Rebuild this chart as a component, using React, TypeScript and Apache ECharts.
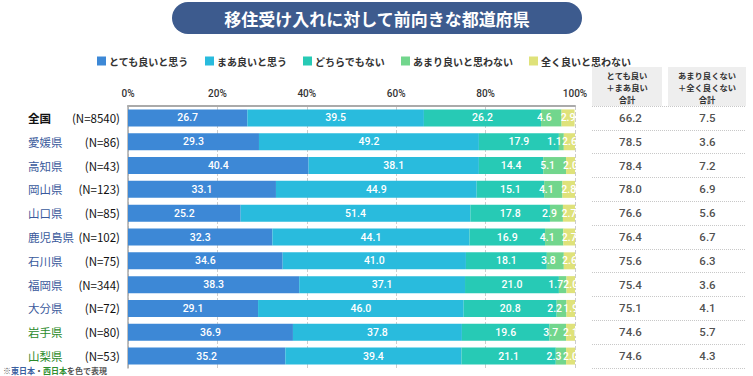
import React, { useEffect, useRef } from "react";
import * as echarts from "echarts";

const regions = ["全国", "愛媛県", "高知県", "岡山県", "山口県", "鹿児島県", "石川県", "福岡県", "大分県", "岩手県", "山梨県"];
const sampleN = [8540, 86, 43, 123, 85, 102, 75, 344, 72, 80, 53];
const area = ["all", "west", "west", "west", "west", "west", "west", "west", "west", "east", "east"];
const seriesNames = ["とても良いと思う", "まあ良いと思う", "どちらでもない", "あまり良いと思わない", "全く良いと思わない"];
const veryGood = [26.7, 29.3, 40.4, 33.1, 25.2, 32.3, 34.6, 38.3, 29.1, 36.9, 35.2];
const fairlyGood = [39.5, 49.2, 38.1, 44.9, 51.4, 44.1, 41.0, 37.1, 46.0, 37.8, 39.4];
const neutral = [26.2, 17.9, 14.4, 15.1, 17.8, 16.9, 18.1, 21.0, 20.8, 19.6, 21.1];
const notGood = [4.6, 1.1, 5.1, 4.1, 2.9, 4.1, 3.8, 1.7, 2.2, 3.7, 2.3];
const notAtAll = [2.9, 2.6, 2.0, 2.8, 2.7, 2.7, 2.6, 2.0, 1.9, 2.1, 2.0];
const positiveTotal = [66.2, 78.5, 78.4, 78.0, 76.6, 76.4, 75.6, 75.4, 75.1, 74.6, 74.6];
const negativeTotal = [7.5, 3.6, 7.2, 6.9, 5.6, 6.7, 6.3, 3.6, 4.1, 5.7, 4.3];
const xTicks = [0, 20, 40, 60, 80, 100];
const tableHeaders = [
  ["とても良い", "＋まあ良い", "合計"],
  ["あまり良くない", "＋全く良くない", "合計"],
];

const colors = ["#3d88d6", "#29bbdd", "#27cab5", "#72d68d", "#dfe27a"];
const labelShift = [0, 0, 0, -7, 0];
const FONT = "'Noto Sans CJK JP', 'Noto Sans', sans-serif";
const NUMFONT = "Roboto, 'Noto Sans', sans-serif";

export default function App() {
  const ref = useRef<HTMLDivElement>(null);
  useEffect(() => {
    if (!ref.current) return;
    const chart = echarts.init(ref.current, null, { renderer: "svg" });
    const values = [veryGood, fairlyGood, neutral, notGood, notAtAll];
    const barSeries = values.map((arr, k) => ({
      name: seriesNames[k],
      type: "bar",
      stack: "total",
      xAxisIndex: 0,
      yAxisIndex: 0,
      barWidth: 17,
      itemStyle: { color: colors[k] },
      label: {
        show: true,
        position: "inside",
        offset: [labelShift[k], 0],
        color: "#fff",
        fontSize: 10.5,
        fontFamily: NUMFONT,
        fontWeight: 500,
        formatter: (p: any) => Number(p.value).toFixed(1),
      },
      data: arr,
    }));
    const tableSeries = [positiveTotal, negativeTotal].map((arr, c) => ({
      type: "scatter",
      xAxisIndex: 1,
      yAxisIndex: 1,
      symbolSize: 0,
      silent: true,
      label: {
        show: true,
        position: "inside",
        color: "#222",
        fontSize: 11.5,
        fontWeight: 500,
        fontFamily: NUMFONT,
        formatter: (p: any) => Number(p.value[2]).toFixed(1),
      },
      data: arr.map((v, i) => [c, regions[i], v]),
    }));
    const headerW = [70, 78];
    const headerX = [592, 668];
    const graphics: any[] = [
      {
        type: "rect",
        shape: { x: 172, y: 2, width: 410, height: 32, r: 16 },
        style: { fill: "#3d5b8e" },
      },
      {
        type: "text",
        x: 377,
        y: 18,
        style: {
          text: "移住受け入れに対して前向きな都道府県",
          fill: "#fff",
          fontSize: 17,
          fontWeight: "bold",
          fontFamily: FONT,
          align: "center",
          verticalAlign: "middle",
        },
      },
      {
        type: "text",
        x: 3,
        y: 370,
        style: {
          rich: {
            g: { fill: "#555", fontSize: 8, fontFamily: FONT, fontWeight: "bold" },
            b: { fill: "#3a5fa0", fontSize: 8, fontFamily: FONT, fontWeight: "bold" },
            e: { fill: "#2f8f2f", fontSize: 8, fontFamily: FONT, fontWeight: "bold" },
          },
          text: "{g|※}{b|東日本}{g|・}{e|西日本}{g|を色で表現}",
          verticalAlign: "middle",
        },
      },
    ];
    tableHeaders.forEach((lines, i) => {
      graphics.push({
        type: "rect",
        shape: { x: headerX[i], y: 67, width: headerW[i], height: 39 },
        style: { fill: "#eeeeee" },
      });
      lines.forEach((line, j) => {
        graphics.push({
          type: "text",
          x: headerX[i] + headerW[i] / 2,
          y: 75.2 + j * 12.1,
          style: {
            text: line,
            fill: "#333",
            fontSize: 8.3,
            fontWeight: "bold",
            fontFamily: FONT,
            align: "center",
            verticalAlign: "middle",
          },
        });
      });
    });

    chart.setOption({
      animation: false,
      textStyle: { fontFamily: FONT },
      color: colors,
      legend: {
        data: seriesNames,
        left: 92,
        top: 51,
        icon: "rect",
        itemWidth: 9,
        itemHeight: 9,
        itemGap: 16,
        textStyle: { fontSize: 10, fontWeight: "bold", color: "#333", fontFamily: FONT, padding: [0, 0, 0, -2] },
      },
      grid: [
        { left: 128, right: 178, top: 106, bottom: 8 },
        { left: 592, right: 7, top: 106, bottom: 8 },
      ],
      xAxis: [
        {
          type: "value",
          gridIndex: 0,
          position: "top",
          min: 0,
          max: 100,
          interval: 20,
          axisLine: { show: true, onZero: false, lineStyle: { color: "#aaaaaa", width: 2 } },
          axisTick: { show: false },
          axisLabel: {
            margin: 8,
            fontSize: 10,
            color: "#333",
            fontFamily: NUMFONT,
            fontWeight: 500,
            formatter: (v: number) => (xTicks.includes(v) ? v + "%" : ""),
          },
          splitLine: { show: true, lineStyle: { color: "#cccccc", type: "dashed", width: 1 } },
        },
        {
          type: "category",
          gridIndex: 1,
          data: [0, 1],
          show: false,
        },
      ],
      yAxis: [
        {
          type: "category",
          gridIndex: 0,
          inverse: true,
          data: regions,
          axisLine: { show: true, lineStyle: { color: "#aaaaaa", width: 1.5 } },
          axisTick: { show: false },
          axisLabel: {
            align: "left",
            margin: 100,
            formatter: (v: string) => {
              const i = regions.indexOf(v);
              const t = area[i];
              return `{${t}|${v}}{n|(N=${sampleN[i]})}`;
            },
            rich: {
              all: { width: 50, color: "#111", fontSize: 11.5, fontWeight: "bold", fontFamily: FONT },
              west: { width: 50, color: "#3a5a9c", fontSize: 11.5, fontFamily: FONT },
              east: { width: 50, color: "#2a8a2a", fontSize: 11.5, fontFamily: FONT },
              n: { width: 42, align: "right", color: "#111", fontSize: 11.5, fontFamily: FONT },
            },
          },
        },
        {
          type: "category",
          gridIndex: 1,
          inverse: true,
          data: regions,
          axisLine: { show: false },
          axisTick: { show: false },
          axisLabel: { show: false },
          splitLine: { show: true, lineStyle: { color: "#c8c8c8", type: "dotted", width: 1 } },
        },
      ],
      graphic: graphics,
      series: [...barSeries, ...tableSeries],
    });
    return () => chart.dispose();
  }, []);
  return <div ref={ref} style={{ position: "absolute", left: 0, top: 0, width: 753, height: 376 }} />;
}
